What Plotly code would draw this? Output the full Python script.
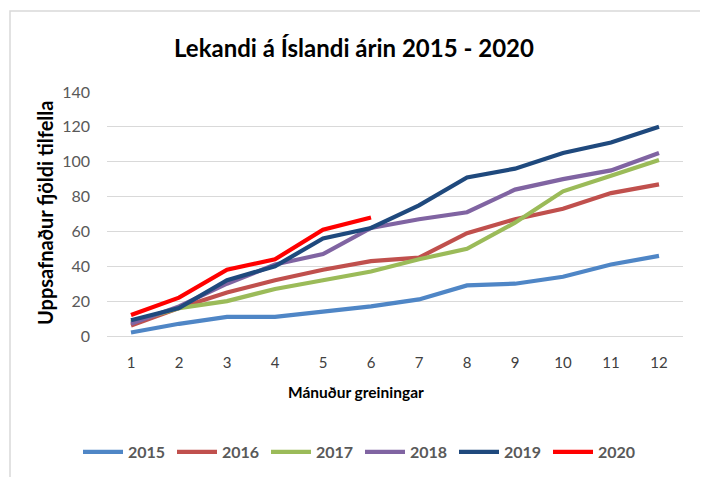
import plotly.graph_objects as go

months = [1, 2, 3, 4, 5, 6, 7, 8, 9, 10, 11, 12]
y2015 = [2, 7, 11, 11, 14, 17, 21, 29, 30, 34, 41, 46]
y2016 = [6, 16, 25, 32, 38, 43, 45, 59, 67, 73, 82, 87]
y2017 = [8, 16, 20, 27, 32, 37, 44, 50, 65, 83, 92, 101]
y2018 = [7, 17, 30, 41, 47, 62, 67, 71, 84, 90, 95, 105]
y2019 = [9, 16, 32, 40, 56, 62, 75, 91, 96, 105, 111, 120]
y2020 = [12, 22, 38, 44, 61, 68]

series = [
    ("2015", y2015, "#4F86C6"),
    ("2016", y2016, "#C0504D"),
    ("2017", y2017, "#9BBB59"),
    ("2018", y2018, "#8064A2"),
    ("2019", y2019, "#1F497D"),
    ("2020", y2020, "#FF0000"),
]

FONT = "Lato, Roboto, Arial, sans-serif"
OFF = 8  # page body margin

fig = go.Figure()
for name, vals, color in series:
    fig.add_trace(go.Scatter(
        x=months[:len(vals)], y=vals, name=name, mode="lines",
        line=dict(color=color, width=4.2),
    ))

W, H = 700, 469
# target plot area in picture pixels
PL, PR, PT, PB = 107, 683, 92, 336
L = PL - OFF
R = W - (PR - OFF)
T = PT - OFF
B = H - (PB - OFF)
pw, ph = W - L - R, H - T - B

def px(x):
    return (x - OFF - L) / pw

def py(y):
    return (H - B - (y - OFF)) / ph

fig.update_layout(
    width=W, height=H,
    margin=dict(l=L, r=R, t=T, b=B, autoexpand=False),
    paper_bgcolor="white", plot_bgcolor="white",
    xaxis=dict(
        range=[0.5, 12.5], tickmode="array", tickvals=months,
        ticktext=[str(m) for m in months],
        showgrid=False, zeroline=False, showline=False, ticks="",
        automargin=False, ticklabelstandoff=16,
        tickfont=dict(family=FONT, size=15, color="#404040"),
    ),
    yaxis=dict(
        range=[0, 140], tickvals=[0, 20, 40, 60, 80, 100, 120, 140],
        showgrid=True, gridcolor="#D9D9D9", gridwidth=1.3,
        zeroline=True, zerolinecolor="#D9D9D9", zerolinewidth=1.3,
        showline=False, ticks="", ticklabelstandoff=16,
        automargin=False,
        tickfont=dict(family=FONT, size=16, color="#595959"),
    ),
    legend=dict(
        orientation="h", x=px(360), xanchor="center",
        y=py(452), yanchor="middle",
        font=dict(family=FONT, size=16, color="#595959", weight="bold"),
        itemwidth=40, tracegroupgap=0, entrywidth=39,
    ),
    showlegend=True,
    annotations=[
        dict(text="<b>Lekandi á Íslandi árin 2015 - 2020</b>",
             xref="paper", yref="paper", x=px(354), y=py(47.5),
             xanchor="center", yanchor="middle", showarrow=False,
             font=dict(family=FONT, size=24, color="#000000")),
        dict(text="<b>Mánuður greiningar</b>",
             xref="paper", yref="paper", x=px(356), y=py(392),
             xanchor="center", yanchor="middle", showarrow=False,
             font=dict(family=FONT, size=15.5, color="#000000")),
        dict(text="<b>Uppsafnaður fjöldi tilfella</b>",
             xref="paper", yref="paper", x=px(45), y=py(213),
             xanchor="center", yanchor="middle", showarrow=False,
             textangle=-90,
             font=dict(family=FONT, size=20, color="#000000")),
    ],
    shapes=[dict(
        type="rect", xref="paper", yref="paper",
        x0=px(10), x1=px(701), y0=py(495), y1=py(11),
        line=dict(color="#D9D9D9", width=1.5), fillcolor="rgba(0,0,0,0)",
        layer="below",
    )],
)

fig.write_html("out.html")
